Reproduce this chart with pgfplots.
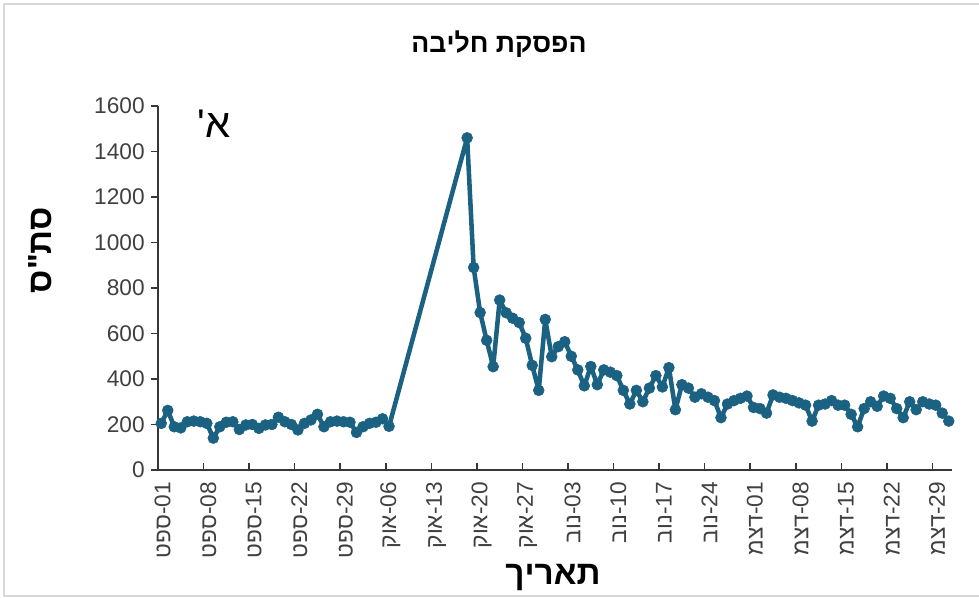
\documentclass[border=0pt]{standalone}
\usepackage{fontspec}
\setmainfont[Ligatures=TeXOff]{Liberation Sans}
\usepackage{pgfplots}
\pgfplotsset{compat=1.18}
\TeXXeTstate=1
\newcommand{\hb}[1]{\beginR #1\endR}
\definecolor{lineblue}{RGB}{27,97,129}
\definecolor{axisgray}{RGB}{55,55,55}

\begin{document}
\begin{tikzpicture}
\path[use as bounding box] (0,0) rectangle (734.25pt,447.75pt);
\draw[black!15, line width=0.8pt] (740pt,444.75pt) -- (3pt,444.75pt) -- (3pt,0.75pt) -- (740pt,0.75pt);
\begin{axis}[
  at={(118.5pt,95.25pt)}, anchor=south west,
  scale only axis, width=595.5pt, height=273pt,
  xmin=-0.5, xmax=121.5, ymin=0, ymax=1600,
  clip=false,
  axis x line=bottom, axis y line=left,
  axis line style={-, axisgray, line width=1.6pt},
  ytick={0,200,...,1600},
  xtick={-0.5,6.5,...,118.5},
  xticklabels={\hb{ספט}-01,\hb{ספט}-08,\hb{ספט}-15,\hb{ספט}-22,\hb{ספט}-29,
    \hb{אוק}-06,\hb{אוק}-13,\hb{אוק}-20,\hb{אוק}-27,
    \hb{נוב}-03,\hb{נוב}-10,\hb{נוב}-17,\hb{נוב}-24,
    \hb{דצמ}-01,\hb{דצמ}-08,\hb{דצמ}-15,\hb{דצמ}-22,\hb{דצמ}-29},
  tick align=outside,
  major tick length=5.5pt,
  tick style={axisgray, line width=1.2pt},
  every major x tick/.append style={yshift=5.5pt},
  /pgf/number format/1000 sep={},
  /pgf/number format/assume math mode=true,
  ticklabel style={font=\fontsize{17}{17}\selectfont, text=black!75},
  yticklabel style={xshift=-1pt},
  xticklabel style={xshift=3.5pt, rotate=90, anchor=east},
]
\addplot[lineblue, line width=3.4pt, line join=round, mark=*, mark size=4.1pt,
  mark options={solid, fill=lineblue, draw=lineblue, line width=0.4pt}]
  table {
day val
0 205
1 262
2 190
3 185
4 212
5 215
6 212
7 205
8 140
9 190
10 210
11 212
12 178
13 198
14 200
15 183
16 198
17 200
18 232
19 212
20 200
21 176
22 205
23 220
24 245
25 190
26 212
27 215
28 212
29 210
30 165
31 190
32 205
33 210
34 225
35 192
47 1460
48 890
49 692
50 570
51 454
52 747
53 691
54 667
55 648
56 579
57 460
58 350
59 662
60 498
61 542
62 564
63 500
64 440
65 370
66 455
67 375
68 440
69 430
70 415
71 350
72 290
73 350
74 300
75 360
76 415
77 365
78 450
79 265
80 375
81 360
82 320
83 335
84 320
85 305
86 230
87 290
88 305
89 315
90 325
91 275
92 270
93 250
94 330
95 320
96 315
97 305
98 295
99 285
100 215
101 285
102 290
103 305
104 285
105 285
106 245
107 190
108 270
109 300
110 280
111 325
112 315
113 270
114 230
115 300
116 265
117 300
118 290
119 285
120 250
121 215
};
\end{axis}
\node[font=\fontsize{20}{20}\selectfont\bfseries] at (374.25pt,414.75pt) {\hb{הפסקת חליבה}};
\node[font=\fontsize{25}{25}\selectfont\bfseries, rotate=90] at (30pt,260.25pt) {\hb{סת"ס}};
\node[font=\fontsize{25}{25}\selectfont\bfseries] at (414.75pt,14.25pt) {\hb{תאריך}};
\node[font=\fontsize{30}{30}\selectfont] at (160.5pt,354.75pt) {א'};
\end{tikzpicture}
\end{document}
